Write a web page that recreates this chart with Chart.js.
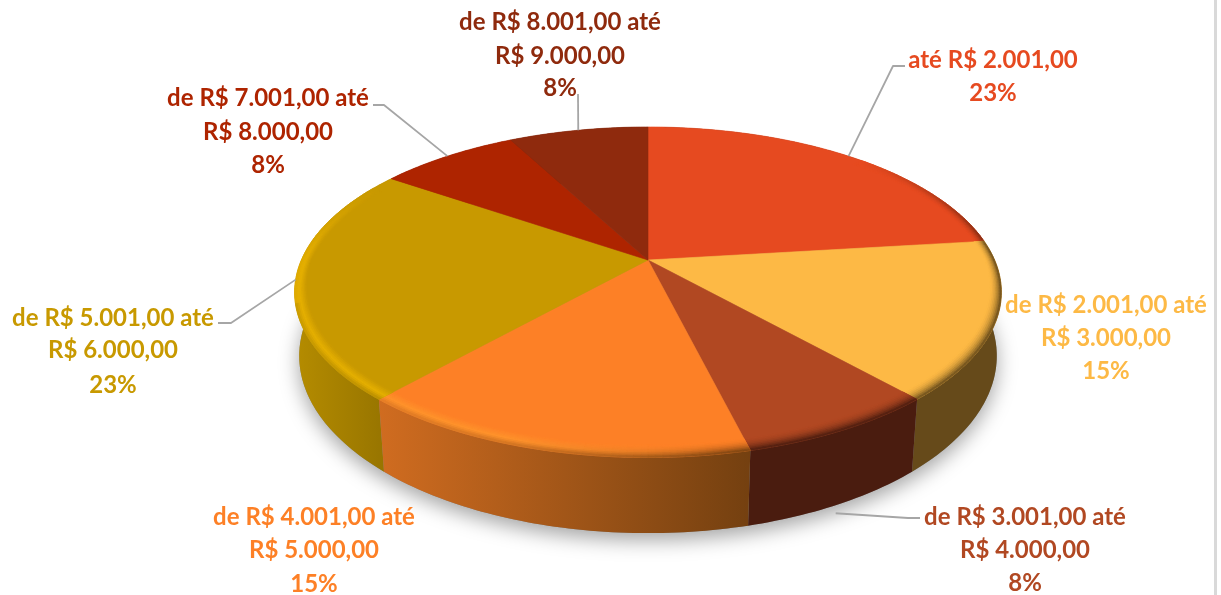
<!DOCTYPE html>
<html lang="pt-BR">
<head>
<meta charset="utf-8">
<title>Faixas de valor</title>
<script src="https://cdn.jsdelivr.net/npm/chart.js@4"></script>
<style>
html,body{margin:0;padding:0;background:#fff;overflow:hidden}
#wrap{position:relative;width:1221px;height:595px}
#strip{position:absolute;left:1214px;top:0;width:3px;height:595px;background:#d9d9d9}
canvas{display:block}
</style>
</head>
<body>
<div id="wrap"><canvas id="c" width="1221" height="595"></canvas><div id="strip"></div></div>
<script>
// ---------- data ----------
const categoryLines = [
  ['até R$ 2.001,00'],
  ['de R$ 2.001,00 até', 'R$ 3.000,00'],
  ['de R$ 3.001,00 até', 'R$ 4.000,00'],
  ['de R$ 4.001,00 até', 'R$ 5.000,00'],
  ['de R$ 5.001,00 até', 'R$ 6.000,00'],
  ['de R$ 7.001,00 até', 'R$ 8.000,00'],
  ['de R$ 8.001,00 até', 'R$ 9.000,00']
];
const responses = [3, 2, 1, 2, 3, 1, 1];
const sliceColors = ['#E64A20', '#FDB945', '#B14822', '#FD8026', '#C89900', '#AE2400', '#8F2A0D'];
const wallLeft  = ['#7a2a12', '#664a1a', '#4a1c0f', '#d06c20', '#b58c00', '#6a1800', '#5a1a08'];
const wallRight = ['#7a2a12', '#664a1a', '#4a1c0f', '#744010', '#957300', '#6a1800', '#5a1a08'];
// label centre x and line y positions
const labelBoxes = [
  {x: 993,  y: [60, 93]},
  {x: 1106, y: [305, 338, 371]},
  {x: 1025, y: [517, 550, 583]},
  {x: 314,  y: [517, 550, 584]},
  {x: 113,  y: [318, 350, 385]},
  {x: 268,  y: [98, 132, 165]},
  {x: 560,  y: [22, 56, 88]}
];
// leader elbows: label-side end, elbow; the slice end comes from the arc
const leaders = {
  0: {pts: [[905, 66], [893, 66]]},
  2: {pts: [[920, 518], [908, 518]], wall: true},
  4: {pts: [[218, 323], [231, 323]]},
  5: {pts: [[373, 105], [384, 105]]},
  6: {pts: [[578, 94]]}
};

// ---------- perspective (all relative to the arc radius) ----------
const TOP = {k: 0.195, ax: 1.333, by: 0.6115, drop: 0};
const BOTTOM = {k: 0.186, ax: 1.318, by: 0.658, drop: 0.242};

function proj(arc, theta, r, bottom) {
  const P = bottom ? BOTTOM : TOP;
  const R = arc.outerRadius, u = r * Math.sin(theta), v = -r * Math.cos(theta);
  const w = 1 - P.k * v;
  return [arc.x + P.ax * R * u / w, arc.y + P.drop * R + P.by * R * v / w];
}
const rimWidth = th => 0.028 + 0.024 * Math.abs(Math.cos(th));
const hex = h => [1, 3, 5].map(i => parseInt(h.substr(i, 2), 16));
const mix = (a, b, t) => a.map((c, i) => c + (b[i] - c) * t);
const css = c => `rgb(${c.map(Math.round).join(',')})`;
const clamp = t => Math.max(0, Math.min(1, t));
const sliceTheta = a => [a.startAngle + Math.PI / 2, a.endAngle + Math.PI / 2];

function wallColor(i, x, x0, x1) {
  return mix(hex(wallLeft[i]), hex(wallRight[i]), clamp((x - x0) / (x1 - x0 || 1)));
}
function edgeExtent(arc) {
  const [a, b] = sliceTheta(arc);
  const xs = [];
  for (let k = 0; k <= 40; k++) xs.push(proj(arc, a + (b - a) * k / 40, 1)[0]);
  return [Math.min(...xs), Math.max(...xs)];
}
function quad(ctx, p, color) {
  ctx.beginPath();
  ctx.moveTo(p[0][0], p[0][1]);
  for (let i = 1; i < p.length; i++) ctx.lineTo(p[i][0], p[i][1]);
  ctx.closePath();
  ctx.fillStyle = color; ctx.strokeStyle = color; ctx.lineWidth = 0.7;
  ctx.fill(); ctx.stroke();
}
function drawWalls(ctx, arcs) {
  // soft floor shadow
  const a0 = arcs[0];
  ctx.save();
  ctx.shadowColor = 'rgba(0,0,0,0.36)';
  ctx.shadowBlur = 20;
  ctx.shadowOffsetY = 7;
  ctx.fillStyle = '#888';
  ctx.beginPath();
  for (let d = 0; d <= 360; d += 2) {
    const p = proj(a0, d * Math.PI / 180, 1, true);
    d ? ctx.lineTo(p[0], p[1]) : ctx.moveTo(p[0], p[1]);
  }
  ctx.closePath(); ctx.fill();
  ctx.restore();
  // side walls, back slices first
  const order = arcs.map((a, i) => i).sort((p, q) => {
    const m = a => { const t = sliceTheta(a); return -Math.cos((t[0] + t[1]) / 2); };
    return m(arcs[p]) - m(arcs[q]);
  });
  order.forEach(i => {
    const arc = arcs[i], [a, b] = sliceTheta(arc), [x0, x1] = edgeExtent(arc);
    const n = Math.ceil((b - a) / (Math.PI / 180));
    const grad = ctx.createLinearGradient(x0, 0, x1, 0);
    grad.addColorStop(0, wallLeft[i]);
    grad.addColorStop(1, wallRight[i]);
    ctx.save();
    ctx.beginPath();
    for (let k = 0; k <= n; k++) {
      const p = proj(arc, a + (b - a) * k / n, 1);
      k ? ctx.lineTo(p[0], p[1]) : ctx.moveTo(p[0], p[1]);
    }
    for (let k = n; k >= 0; k--) {
      const p = proj(arc, a + (b - a) * k / n, 1, true);
      ctx.lineTo(p[0], p[1]);
    }
    ctx.closePath();
    ctx.fillStyle = grad;
    ctx.fill();
    ctx.restore();
  });
}
function rimAmount(deg) {
  const up = clamp((deg - 45) / 40), down = clamp((300 - deg) / 30);
  return Math.min(up, down);
}
function litAmount(deg) {
  return clamp((deg - 170) / 30);
}
function drawTop(ctx, arc, i) {
  const [a, b] = sliceTheta(arc), face = hex(sliceColors[i]);
  const [x0, x1] = edgeExtent(arc);
  ctx.save();
  ctx.beginPath();
  ctx.moveTo(arc.x, arc.y);
  const n = Math.ceil((b - a) / (Math.PI / 360));
  for (let k = 0; k <= n; k++) {
    const p = proj(arc, a + (b - a) * k / n, 1);
    ctx.lineTo(p[0], p[1]);
  }
  ctx.closePath();
  ctx.fillStyle = sliceColors[i];
  ctx.strokeStyle = sliceColors[i];
  ctx.lineWidth = 0.6;
  ctx.fill(); ctx.stroke();
  // bevel along the rim
  const light = face.map(c => Math.min(255, c * 1.15));
  const rings = 8, m = Math.ceil((b - a) / (Math.PI / 180));
  for (let r = 0; r < rings; r++) {
    const t = (r + 0.5) / rings;
    for (let k = 0; k < m; k++) {
      const th0 = a + (b - a) * k / m, th1 = a + (b - a) * (k + 1) / m;
      const deg = ((th0 + th1) / 2) * 180 / Math.PI;
      const I = rimAmount(deg);
      if (I <= 0) continue;
      const px = proj(arc, (th0 + th1) / 2, 1)[0];
      const wall = wallColor(i, px, x0, x1);
      const dark = mix(face, wall, t * t);
      const lit = t < 0.6 ? mix(face, light, t / 0.6) : mix(light, wall, (t - 0.6) / 0.4 * (deg > 255 ? 0.15 : 0.6));
      const c = mix(face, mix(dark, lit, litAmount(deg)), I);
      const s = (th, q) => 1 - rimWidth(th) * (1 - q);
      const q0 = r / rings, q1 = (r + 1) / rings;
      quad(ctx, [proj(arc, th0, s(th0, q0)), proj(arc, th1, s(th1, q0)),
                 proj(arc, th1, s(th1, q1)), proj(arc, th0, s(th0, q1))], css(c));
    }
  }
  ctx.restore();
}

const pie3d = {
  id: 'pie3d',
  afterDatasetsUpdate(chart) {
    chart.getDatasetMeta(0).data.forEach((arc, i) => {
      arc.draw = function (ctx) { drawTop(ctx, arc, i); };
    });
  },
  beforeDatasetsDraw(chart) {
    drawWalls(chart.ctx, chart.getDatasetMeta(0).data);
  },
  afterDatasetsDraw(chart) {
    const ctx = chart.ctx, arcs = chart.getDatasetMeta(0).data;
    const total = responses.reduce((s, v) => s + v, 0);
    ctx.save();
    ctx.strokeStyle = '#A6A6A6';
    ctx.lineWidth = 1.8;
    ctx.lineJoin = 'round';
    Object.keys(leaders).forEach(k => {
      const arc = arcs[k], [a, b] = sliceTheta(arc), l = leaders[k];
      const end = proj(arc, (a + b) / 2, 1, !!l.wall);
      if (l.wall) { end[0] -= 3; end[1] += 9; }
      ctx.beginPath();
      ctx.moveTo(l.pts[0][0], l.pts[0][1]);
      l.pts.slice(1).forEach(p => ctx.lineTo(p[0], p[1]));
      ctx.lineTo(end[0], end[1]);
      ctx.stroke();
    });
    ctx.textAlign = 'center';
    ctx.textBaseline = 'middle';
    ctx.font = 'bold 24px Lato';
    categoryLines.forEach((lines, i) => {
      const box = labelBoxes[i];
      const texts = lines.concat([Math.round(responses[i] / total * 100) + '%']);
      ctx.fillStyle = sliceColors[i];
      texts.forEach((t, j) => ctx.fillText(t, box.x, box.y[j]));
    });
    ctx.restore();
  }
};

new Chart(document.getElementById('c'), {
  type: 'pie',
  data: {
    labels: categoryLines.map(l => l.join(' ')),
    datasets: [{ data: responses, backgroundColor: sliceColors, borderWidth: 0 }]
  },
  options: {
    responsive: false,
    animation: false,
    layout: { padding: { left: 75, right: 0, top: 0, bottom: 75 } },
    plugins: { legend: { display: false }, tooltip: { enabled: false } }
  },
  plugins: [pie3d]
});
</script>
</body>
</html>
